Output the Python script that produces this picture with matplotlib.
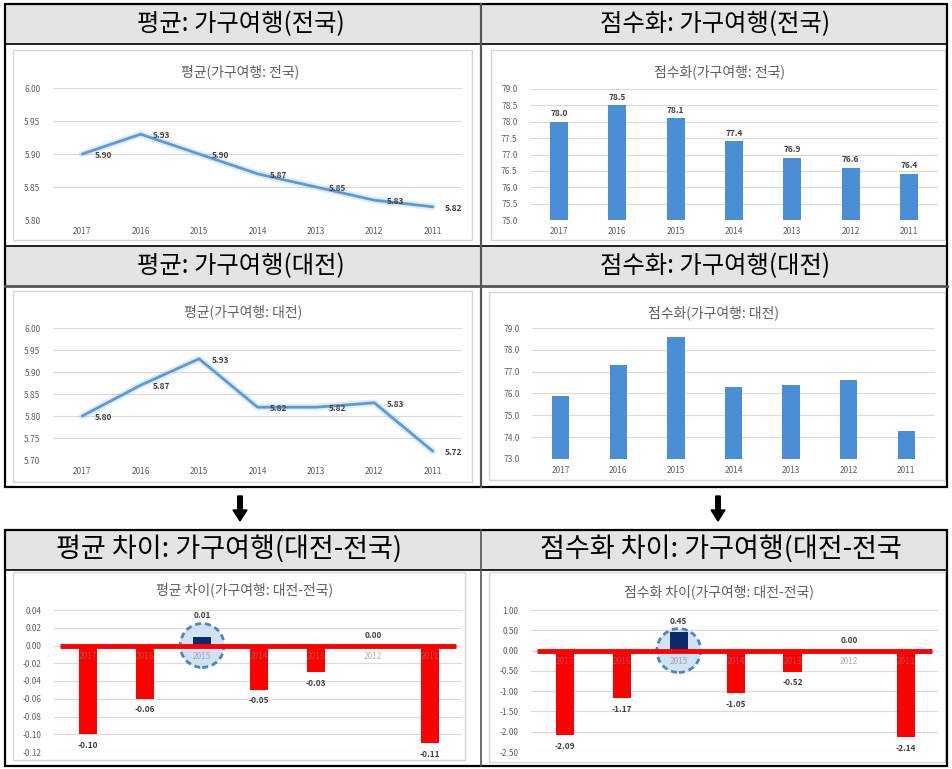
import matplotlib
matplotlib.use("Agg")
import matplotlib.pyplot as plt
from matplotlib.patches import Rectangle, FancyArrow
import numpy as np

plt.rcParams["font.family"] = ["Noto Sans CJK KR", "DejaVu Sans"]

W, H = 952, 769

years = ["2017", "2016", "2015", "2014", "2013", "2012", "2011"]

mean_national = [5.90, 5.93, 5.90, 5.87, 5.85, 5.83, 5.82]
score_national = [78.0, 78.5, 78.1, 77.4, 76.9, 76.6, 76.4]
mean_daejeon = [5.80, 5.87, 5.93, 5.82, 5.82, 5.83, 5.72]
score_daejeon = [75.9, 77.3, 78.6, 76.3, 76.4, 76.6, 74.3]
mean_diff = [-0.10, -0.06, 0.01, -0.05, -0.03, 0.00, -0.11]
score_diff = [-2.09, -1.17, 0.45, -1.05, -0.52, 0.00, -2.14]

headers = [
    "평균: 가구여행(전국)", "점수화: 가구여행(전국)",
    "평균: 가구여행(대전)", "점수화: 가구여행(대전)",
    "평균 차이: 가구여행(대전-전국)", "점수화 차이: 가구여행(대전-전국",
]
titles = [
    "평균(가구여행: 전국)", "점수화(가구여행: 전국)",
    "평균(가구여행: 대전)", "점수화(가구여행: 대전)",
    "평균 차이(가구여행: 대전-전국)", "점수화 차이(가구여행: 대전-전국)",
]

LINE_BLUE = "#5b9bd5"
BAR_BLUE = "#4a8fd6"
GRID = "#dadada"
TXT = "#5f5f5f"
LBL = "#404040"
TICK_FS = 6
LBL_FS = 6

fig = plt.figure(figsize=(W / 100, H / 100), dpi=100)
fig.patch.set_facecolor("white")

# pixel-space canvas for the table frame, headers, arrows and chart frames
bg = fig.add_axes([0, 0, 1, 1])
bg.set_xlim(0, W)
bg.set_ylim(H, 0)
bg.axis("off")

HEAD = "#e4e4e4"
for (y0, y1) in [(4, 44), (246, 286), (530, 570)]:
    bg.add_patch(Rectangle((5, y0), 942, y1 - y0, fc=HEAD, ec="none", zorder=0))

# top table
bg.add_patch(Rectangle((5, 4), 942, 483, fc="none", ec="black", lw=1.6, zorder=3))
for y in (44, 246):
    bg.plot([5, 947], [y, y], color="black", lw=1.2, zorder=3)
bg.plot([5, 947], [286, 286], color="#555555", lw=2.0, zorder=3)
bg.plot([481, 481], [4, 487], color="#555555", lw=1.6, zorder=3)

# bottom table
bg.add_patch(Rectangle((5, 530), 942, 236, fc="none", ec="black", lw=1.6, zorder=3))
bg.plot([5, 947], [570, 570], color="black", lw=1.2, zorder=3)
bg.plot([481, 481], [530, 766], color="#555555", lw=1.2, zorder=3)

# header captions
head_pos = [(241, 24), (715, 24), (241, 266), (715, 266), (229, 550), (721, 550)]
for txt, (x, y) in zip(headers, head_pos):
    fs = 17.5 if y < 500 else 19.5
    bg.text(x, y, txt, ha="center", va="center", fontsize=fs, color="black", zorder=4)

# arrows between the tables
for ax_x in (240, 718):
    bg.add_patch(FancyArrow(ax_x, 496, 0, 25, width=4.5, head_width=14, head_length=11,
                            length_includes_head=True, fc="black", ec="black", zorder=4))

# chart frames and chart titles
frames = [(13, 50, 472, 240), (491, 50, 945, 240), (13, 291, 472, 482),
          (489, 292, 945, 480), (13, 572, 465, 760), (489, 572, 945, 762)]
for (x0, y0, x1, y1) in frames:
    bg.add_patch(Rectangle((x0, y0), x1 - x0, y1 - y0, fc="white", ec="#d6d6d6", lw=1.0, zorder=1))

title_pos = [(240, 72), (719, 72), (243, 312), (714, 313), (245, 590), (719, 592)]
for txt, (x, y) in zip(titles, title_pos):
    bg.text(x, y, txt, ha="center", va="center", fontsize=10, color=TXT, zorder=4)


def px_axes(x0, y0, x1, y1):
    a = fig.add_axes([x0 / W, 1 - y1 / H, (x1 - x0) / W, (y1 - y0) / H])
    a.patch.set_alpha(0)
    for s in a.spines.values():
        s.set_visible(False)
    a.tick_params(length=0, labelsize=TICK_FS, labelcolor=TXT)
    a.set_axisbelow(True)
    a.yaxis.grid(True, color=GRID, lw=0.8)
    return a


x = np.arange(len(years))


def line_chart(a, vals, lo, hi, step):
    a.plot(x, vals, color=LINE_BLUE, lw=5, alpha=0.18, solid_capstyle="round", zorder=2)
    a.plot(x, vals, color=LINE_BLUE, lw=2.0, solid_capstyle="round", zorder=3)
    a.set_xlim(-0.5, 6.5)
    a.set_ylim(lo, hi)
    ticks = np.arange(lo, hi + step / 2, step)
    a.set_yticks(ticks)
    a.set_yticklabels([f"{v:.2f}" for v in ticks])
    a.set_xticks(x)
    a.set_xticklabels(years)
    a.tick_params(axis="y", pad=9)
    a.tick_params(axis="x", pad=5)
    for xi, v in zip(x, vals):
        a.annotate(f"{v:.2f}", (xi, v), xytext=(9, -1), textcoords="offset points",
                   ha="left", va="center", fontsize=LBL_FS, color=LBL, fontweight="bold")


def bar_chart(a, vals, lo, hi, step, width, labels):
    a.bar(x, np.array(vals) - lo, bottom=lo, width=width, color=BAR_BLUE, zorder=3)
    a.set_xlim(-0.5, 6.5)
    a.set_ylim(lo, hi)
    ticks = np.arange(lo, hi + step / 2, step)
    a.set_yticks(ticks)
    a.set_yticklabels([f"{v:.1f}" for v in ticks])
    a.set_xticks(x)
    a.set_xticklabels(years)
    a.tick_params(axis="y", pad=9)
    a.tick_params(axis="x", pad=5)
    if labels:
        for xi, v in zip(x, vals):
            a.annotate(f"{v:.1f}", (xi, v), xytext=(0, 6), textcoords="offset points",
                       ha="center", va="center", fontsize=LBL_FS, color=LBL, fontweight="bold")


def diff_chart(a, vals, lo, hi, step, hl_idx):
    a.set_xlim(-0.6, 6.56)
    a.set_ylim(lo, hi)
    ticks = np.arange(lo, hi + step / 2, step)
    a.set_yticks(ticks)
    a.set_yticklabels([f"{v:.2f}" for v in ticks])
    a.set_xticks([])
    a.tick_params(axis="y", pad=9)
    colors = ["#ff0000" if v < 0 else "#0d2a6e" for v in vals]
    colors[hl_idx] = "#0d2a6e"
    # highlight ring around the positive year
    a.scatter([x[hl_idx]], [0], s=1000, facecolor="#c9ddf2", edgecolor="#2e75b6",
              linewidths=2.0, linestyle=(0, (2.2, 1.4)), alpha=0.85, zorder=2)
    a.bar(x, vals, width=0.32, color=colors, zorder=3)
    a.hlines(0, -0.5, 6.45, color="#ff0000", lw=3.5, zorder=4)
    for xi, v, yr in zip(x, vals, years):
        a.annotate(yr, (xi, 0), xytext=(0, -8), textcoords="offset points",
                   ha="center", va="center", fontsize=TICK_FS, color="#7f7f7f", alpha=0.6, zorder=5)
        if v < 0:
            off = -8
        elif v > 0:
            off = 15 if hi < 0.5 else 8
        else:
            off = 7
        a.annotate(f"{v:.2f}", (xi, v), xytext=(0, off), textcoords="offset points",
                   ha="center", va="center", fontsize=LBL_FS, color=LBL, fontweight="bold", zorder=5)


a1 = px_axes(53, 88, 462, 220)
line_chart(a1, mean_national, 5.80, 6.00, 0.05)

a2 = px_axes(530, 89, 938, 220)
bar_chart(a2, score_national, 75.0, 79.0, 0.5, 0.31, True)

a3 = px_axes(53, 328, 462, 460)
line_chart(a3, mean_daejeon, 5.70, 6.00, 0.05)

a4 = px_axes(532, 328, 935, 459)
bar_chart(a4, score_daejeon, 73.0, 79.0, 1.0, 0.30, False)

a5 = px_axes(54, 610, 462, 752)
diff_chart(a5, mean_diff, -0.12, 0.04, 0.02, 2)

a6 = px_axes(531, 610, 938, 752)
diff_chart(a6, score_diff, -2.50, 1.00, 0.50, 2)

fig.savefig("out.png", dpi=100)
